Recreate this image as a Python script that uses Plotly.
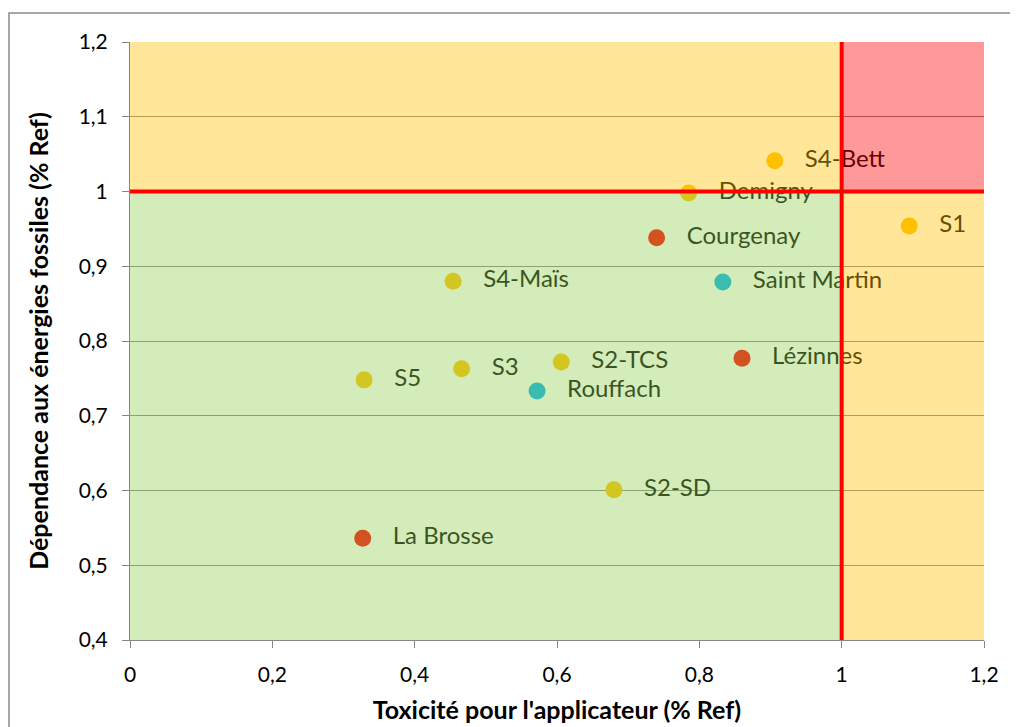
import plotly.graph_objects as go

names = ["S4-Bett", "Demigny", "Courgenay", "S1", "S4-Maïs", "Saint Martin", "Lézinnes",
         "S2-TCS", "S3", "S5", "Rouffach", "S2-SD", "La Brosse"]
tox = [0.906, 0.785, 0.740, 1.095, 0.454, 0.833, 0.860, 0.606, 0.466, 0.329, 0.572, 0.680, 0.327]
dep = [1.041, 0.998, 0.938, 0.954, 0.880, 0.879, 0.777, 0.772, 0.763, 0.748, 0.733, 0.601, 0.536]
groups = ["S", "S", "R", "S", "S", "B", "R", "S", "S", "S", "B", "S", "R"]
group_colors = {"S": "#FFC000", "R": "#FF0000", "B": "#00B0F0"}

x_ticks = [0, 0.2, 0.4, 0.6, 0.8, 1, 1.2]
x_ticklabels = ["0", "0,2", "0,4", "0,6", "0,8", "1", "1,2"]
y_ticks = [0.4, 0.5, 0.6, 0.7, 0.8, 0.9, 1, 1.1, 1.2]
y_ticklabels = ["0,4", "0,5", "0,6", "0,7", "0,8", "0,9", "1", "1,1", "1,2"]
threshold = 1.0

font = "Lato, 'Open Sans', sans-serif"

fig = go.Figure()
fig.add_trace(go.Scatter(
    x=tox, y=dep, mode="markers+text",
    text=["   " + n for n in names],
    textposition="middle right",
    textfont=dict(family=font, size=24, color="#000000"),
    marker=dict(size=17, color=[group_colors[g] for g in groups], line=dict(width=0)),
    cliponaxis=False, showlegend=False, hoverinfo="skip",
))

xmin, xmax = 0, 1.2
ymin, ymax = 0.4, 1.2
shapes = [
    dict(type="rect", xref="x", yref="y", x0=xmin, x1=threshold, y0=ymin, y1=threshold,
         fillcolor="#92D050", opacity=0.4, line=dict(width=0), layer="above"),
    dict(type="rect", xref="x", yref="y", x0=xmin, x1=threshold, y0=threshold, y1=ymax,
         fillcolor="#FFC000", opacity=0.4, line=dict(width=0), layer="above"),
    dict(type="rect", xref="x", yref="y", x0=threshold, x1=xmax, y0=ymin, y1=threshold,
         fillcolor="#FFC000", opacity=0.4, line=dict(width=0), layer="above"),
    dict(type="rect", xref="x", yref="y", x0=threshold, x1=xmax, y0=threshold, y1=ymax,
         fillcolor="#FF0000", opacity=0.4, line=dict(width=0), layer="above"),
    dict(type="line", xref="x", yref="y", x0=xmin, x1=xmax, y0=threshold, y1=threshold,
         line=dict(color="#FF0000", width=4), layer="above"),
    dict(type="line", xref="x", yref="y", x0=threshold, x1=threshold, y0=ymin, y1=ymax,
         line=dict(color="#FF0000", width=4), layer="above"),
    # outer chart border (extends beyond the visible page on the right and bottom)
    dict(type="rect", xref="paper", yref="paper", x0=-0.1417, x1=1.3, y0=-0.4, y1=1.0485,
         line=dict(color="#8C8C8C", width=1.5), fillcolor="rgba(0,0,0,0)", layer="above"),
]

fig.update_layout(
    width=1010, height=719,
    margin=dict(l=122, r=34, t=34, b=87, autoexpand=False),
    paper_bgcolor="white", plot_bgcolor="white",
    shapes=shapes,
    font=dict(family=font, size=20, color="#000000"),
    xaxis=dict(range=[xmin, xmax], tickvals=x_ticks, ticktext=x_ticklabels, automargin=False,
               showgrid=False, zeroline=False, showline=True, linecolor="#868686", linewidth=1,
               ticks="outside", ticklen=7, tickcolor="#868686",
               tickfont=dict(family=font, size=21), ticklabelstandoff=9,
               title=dict(text="<b>Toxicité pour l'applicateur (% Ref)</b>",
                          font=dict(family=font, size=25), standoff=16)),
    yaxis=dict(range=[ymin, ymax], tickvals=y_ticks, ticktext=y_ticklabels, automargin=False,
               showgrid=True, gridcolor="#868686", gridwidth=1, zeroline=False,
               showline=True, linecolor="#868686", linewidth=1,
               ticks="outside", ticklen=7, tickcolor="#868686",
               tickfont=dict(family=font, size=21), ticklabelstandoff=10,
               title=dict(text="<b>Dépendance aux énergies fossiles (% Ref)</b>",
                          font=dict(family=font, size=25), standoff=22)),
)

fig.write_html("out.html")
